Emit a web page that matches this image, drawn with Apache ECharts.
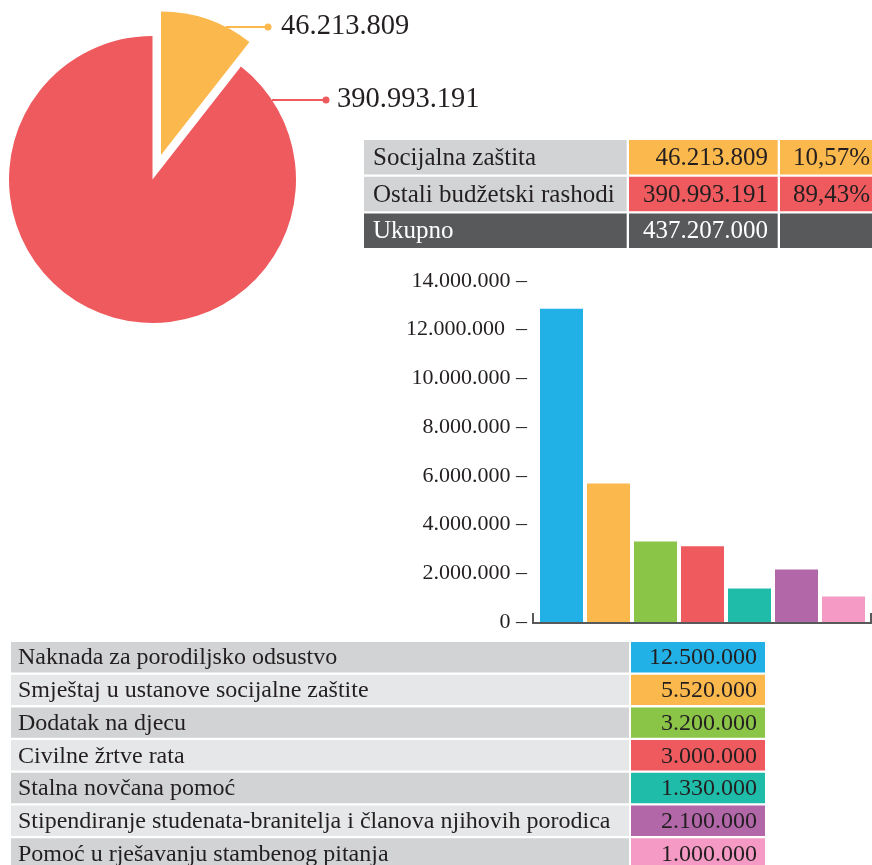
<!DOCTYPE html>
<html><head><meta charset="utf-8">
<script src="https://cdn.jsdelivr.net/npm/echarts@6/dist/echarts.min.js"></script>
<style>html,body{margin:0;padding:0;background:#fff}#c{width:872px;height:865px}</style>
</head><body><div id="c"></div>
<script>
// ---- data ----
const pieNames = ['Socijalna zaštita', 'Ostali budžetski rashodi'];
const pieValues = [46213809, 390993191];
const pieColors = ['#fbb84c', '#ef5a5e'];

const summaryNames = ['Socijalna zaštita', 'Ostali budžetski rashodi', 'Ukupno'];
const summaryValues = ['46.213.809', '390.993.191', '437.207.000'];
const summaryPercents = ['10,57%', '89,43%', ''];

const categories = [
  'Naknada za porodiljsko odsustvo',
  'Smještaj u ustanove socijalne zaštite',
  'Dodatak na djecu',
  'Civilne žrtve rata',
  'Stalna novčana pomoć',
  'Stipendiranje studenata-branitelja i članova njihovih porodica',
  'Pomoć u rješavanju stambenog pitanja'
];
const tableValues = ['12.500.000', '5.520.000', '3.200.000', '3.000.000', '1.330.000', '2.100.000', '1.000.000'];
const barValues = [12860000, 5690000, 3310000, 3110000, 1380000, 2160000, 1050000];
const barColors = ['#21b1e6', '#fbb84c', '#8bc548', '#ef5a5e', '#20bcaa', '#b267a9', '#f49ac4'];
const yTickLabels = ['0 –', '2.000.000 –', '4.000.000 –', '6.000.000 –', '8.000.000 –', '10.000.000 –', '12.000.000  –', '14.000.000 –'];

// ---- layout ----
const FONT = '"Liberation Serif", "Times New Roman", serif';
const TXT = '#231f20';
const DARK = '#58595b';
const GRAY1 = '#d1d3d4';
const GRAY2 = '#e6e7e8';
const CLEAR = 'rgba(0,0,0,0)';

const PIE_CX = 152.5, PIE_CY = 179.5, PIE_R = 143.5, PIE_OFF = 26;
const LABEL_Y = [27, 100];
const LINE_END_X = [268, 326];
const LABEL_X = [281, 337];

const GRID_L = 538, GRID_T = 281, GRID_W = 329, GRID_H = 341;

function formatNum(v) {
  return String(v).replace(/\B(?=(\d{3})+(?!\d))/g, '.');
}

const total = pieValues.reduce((a, b) => a + b, 0);
function sliceCenter(i) {
  if (i !== 0) return [PIE_CX, PIE_CY];
  const mid = (pieValues[0] / total) * Math.PI; // half of slice angle, clockwise from top
  return [PIE_CX + Math.sin(mid) * PIE_OFF, PIE_CY - Math.cos(mid) * PIE_OFF];
}
function arcX(i) {
  const c = sliceCenter(i);
  const dy = LABEL_Y[i] - c[1];
  return c[0] + Math.sqrt(PIE_R * PIE_R - dy * dy);
}

const graphics = [];
for (let i = 0; i < pieValues.length; i++) {
  graphics.push({ type: 'circle', silent: true, z: 10, shape: { cx: LINE_END_X[i], cy: LABEL_Y[i], r: 3.5 }, style: { fill: pieColors[i] } });
}
// summary table
const ST_TOP = 140, ST_PITCH = 36.7, ST_H = 34.5;
const stCols = [[364, 626.7], [629, 777.7], [780, 880]];
const stColors = [[GRAY1, pieColors[0], pieColors[0]], [GRAY1, pieColors[1], pieColors[1]], [DARK, DARK, DARK]];
for (let r = 0; r < summaryNames.length; r++) {
  const y = ST_TOP + r * ST_PITCH;
  for (let c = 0; c < 3; c++) {
    graphics.push({ type: 'rect', silent: true, shape: { x: stCols[c][0], y: y, width: stCols[c][1] - stCols[c][0], height: ST_H }, style: { fill: stColors[r][c] } });
  }
  const col = r === 2 ? '#ffffff' : TXT;
  const cy = y + ST_H / 2 + 1;
  graphics.push({ type: 'text', silent: true, x: 373, y: cy, style: { text: summaryNames[r], font: '25px ' + FONT, fill: col, align: 'left', verticalAlign: 'middle' } });
  graphics.push({ type: 'text', silent: true, x: 768, y: cy, style: { text: summaryValues[r], font: '25px ' + FONT, fill: col, align: 'right', verticalAlign: 'middle' } });
  if (summaryPercents[r]) graphics.push({ type: 'text', silent: true, x: 870, y: cy, style: { text: summaryPercents[r], font: '25px ' + FONT, fill: col, align: 'right', verticalAlign: 'middle' } });
}
// bar axis bracket
graphics.push({ type: 'polyline', silent: true, shape: { points: [[GRID_L - 5, GRID_T + GRID_H - 9], [GRID_L - 5, GRID_T + GRID_H + 1], [GRID_L + GRID_W + 4, GRID_T + GRID_H + 1], [GRID_L + GRID_W + 4, GRID_T + GRID_H - 9]] }, style: { stroke: DARK, lineWidth: 2, fill: null } });
// bottom table
const BT_TOP = 642, BT_PITCH = 32.7, BT_H = 30.4;
for (let r = 0; r < categories.length; r++) {
  const y = BT_TOP + r * BT_PITCH;
  graphics.push({ type: 'rect', silent: true, shape: { x: 11, y: y, width: 618, height: BT_H }, style: { fill: r % 2 === 0 ? GRAY1 : GRAY2 } });
  graphics.push({ type: 'rect', silent: true, shape: { x: 631, y: y, width: 134, height: BT_H }, style: { fill: barColors[r] } });
  const cy = y + BT_H / 2 + 1;
  graphics.push({ type: 'text', silent: true, x: 18, y: cy, style: { text: categories[r], font: '24px ' + FONT, fill: TXT, align: 'left', verticalAlign: 'middle' } });
  graphics.push({ type: 'text', silent: true, x: 757, y: cy, style: { text: tableValues[r], font: '24px ' + FONT, fill: TXT, align: 'right', verticalAlign: 'middle' } });
}

// one pie series per slice so the exploded slice keeps plain label layout
function pieSeries(k) {
  return {
    type: 'pie', center: sliceCenter(k), radius: PIE_R, startAngle: 90, clockwise: true,
    avoidLabelOverlap: false, silent: true, emphasis: { disabled: true },
    data: pieValues.map((v, i) => ({
      name: pieNames[i], value: v,
      itemStyle: { color: i === k ? pieColors[i] : CLEAR },
      label: { show: i === k },
      labelLine: { show: i === k, lineStyle: { color: pieColors[i], width: 2 } }
    })),
    label: { position: 'outside', formatter: p => formatNum(p.value), fontFamily: FONT, fontSize: 28.5, color: TXT },
    labelLine: { length: 10, length2: 10, smooth: false },
    labelLayout: function (params) {
      const i = params.dataIndex;
      const y = LABEL_Y[i];
      return {
        x: LABEL_X[i], y: y, align: 'left', verticalAlign: 'middle',
        labelLinePoints: [[arcX(i), y], [(arcX(i) + LINE_END_X[i]) / 2, y], [LINE_END_X[i], y]]
      };
    }
  };
}

const chart = echarts.init(document.getElementById('c'), null, { renderer: 'canvas' });
chart.setOption({
  animation: false,
  backgroundColor: '#ffffff',
  grid: { left: GRID_L, top: GRID_T, width: GRID_W, height: GRID_H, containLabel: false },
  xAxis: { type: 'category', data: categories, axisLine: { show: false }, axisTick: { show: false }, axisLabel: { show: false }, splitLine: { show: false } },
  yAxis: {
    type: 'value', min: 0, max: 14000000, interval: 2000000,
    axisLine: { show: false }, axisTick: { show: false }, splitLine: { show: false },
    axisLabel: { formatter: v => yTickLabels[Math.round(v / 2000000)], margin: 11, fontFamily: FONT, fontSize: 22, color: TXT }
  },
  series: [
    pieSeries(1),
    pieSeries(0),
    {
      type: 'bar', barWidth: 43, emphasis: { disabled: true },
      data: barValues.map((v, i) => ({ value: v, itemStyle: { color: barColors[i] } }))
    }
  ],
  graphic: graphics
});
</script>
</body></html>
